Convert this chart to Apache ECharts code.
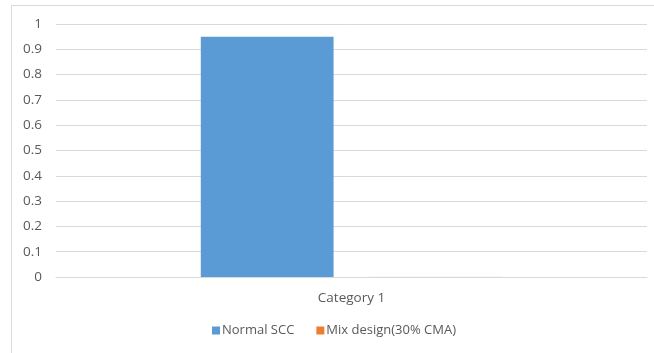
<!DOCTYPE html>
<html>
<head>
<meta charset="utf-8">
<script src="https://cdn.jsdelivr.net/npm/echarts@6/dist/echarts.min.js"></script>
<style>
  html, body { margin: 0; padding: 0; background: #fff; }
  #chart { width: 654px; height: 353px; }
</style>
</head>
<body>
<div id="chart"></div>
<script>
const categories = ['Category 1'];
const normalScc = [0.95];
const mixDesign = [0.001];
const yTicks = { min: 0, max: 1, interval: 0.1 };

const chart = echarts.init(document.getElementById('chart'), null, { renderer: 'canvas' });
const font = '"Open Sans", "Liberation Sans", sans-serif';

chart.setOption({
  animation: false,
  backgroundColor: '#fff',
  graphic: [{
    type: 'rect',
    shape: { x: 11.5, y: 5.5, width: 700, height: 400 },
    style: { fill: 'none', stroke: '#d9d9d9', lineWidth: 1 },
    silent: true
  }],
  grid: { left: 56, right: 7, top: 24, bottom: 76, containLabel: false },
  legend: {
    bottom: 11,
    left: 207,
    itemWidth: 8,
    itemHeight: 8,
    itemGap: 22,
    icon: 'rect',
    textStyle: { color: '#595959', fontSize: 13, fontFamily: font, padding: [0, 0, 0, -3] },
    data: [
      { name: 'Normal SCC', itemStyle: { color: '#5b9bd5', opacity: 1 } },
      { name: 'Mix design(30% CMA)', itemStyle: { color: '#ed7d31', opacity: 1 } }
    ]
  },
  xAxis: {
    type: 'category',
    data: categories,
    axisLine: { lineStyle: { color: '#d9d9d9' } },
    axisTick: { show: false },
    axisLabel: { color: '#595959', fontSize: 13.5, fontFamily: font, margin: 14 }
  },
  yAxis: {
    type: 'value',
    min: yTicks.min,
    max: yTicks.max,
    interval: yTicks.interval,
    axisLine: { show: false },
    axisTick: { show: false },
    splitLine: { lineStyle: { color: '#d9d9d9' } },
    axisLabel: { color: '#595959', fontSize: 13.5, fontFamily: font, margin: 14 }
  },
  series: [
    {
      name: 'Normal SCC',
      type: 'bar',
      data: normalScc,
      itemStyle: { color: '#5b9bd5' },
      barGap: '27%',
      barCategoryGap: '49%'
    },
    {
      name: 'Mix design(30% CMA)',
      type: 'bar',
      data: mixDesign,
      itemStyle: { color: '#ed7d31', opacity: 0.35 }
    }
  ]
});
</script>
</body>
</html>
